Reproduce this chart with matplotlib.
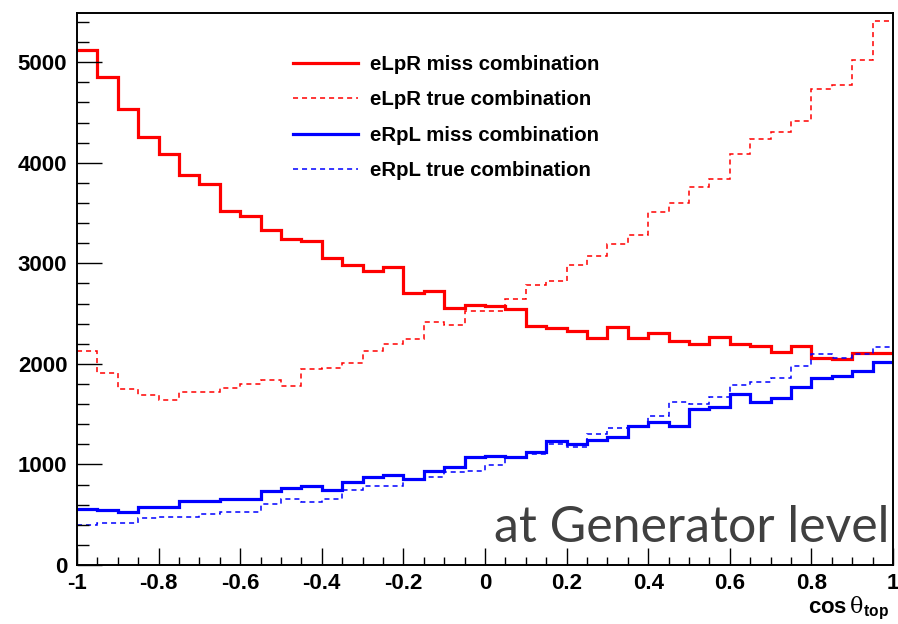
import numpy as np
import matplotlib
matplotlib.use("Agg")
import matplotlib.pyplot as plt
from matplotlib.ticker import MultipleLocator

# ---- data: 40 bins in cos(theta_top) from -1 to 1 ----
x_min, x_max, n_bins = -1.0, 1.0, 40

elpr_miss = [5120, 4850, 4540, 4258, 4085, 3883, 3794, 3519, 3476, 3327,
             3240, 3218, 3052, 2980, 2926, 2966, 2707, 2724, 2558, 2584,
             2571, 2545, 2379, 2359, 2326, 2256, 2369, 2253, 2310, 2230,
             2197, 2266, 2197, 2177, 2117, 2177, 2061, 2048, 2104, 2104]

elpr_true = [2127, 1909, 1746, 1690, 1643, 1717, 1717, 1763, 1796, 1836,
             1776, 1951, 1956, 2011, 2127, 2197, 2243, 2416, 2389, 2522,
             2525, 2644, 2780, 2826, 2982, 3072, 3190, 3280, 3509, 3598,
             3761, 3843, 4092, 4241, 4311, 4417, 4732, 4778, 5027, 5408]

erpl_miss = [557, 543, 527, 577, 577, 633, 636, 661, 661, 736,
             762, 782, 749, 822, 872, 895, 852, 937, 977, 1071,
             1083, 1071, 1120, 1236, 1200, 1243, 1272, 1385, 1418, 1378,
             1554, 1568, 1697, 1624, 1664, 1767, 1859, 1879, 1932, 2022]

erpl_true = [395, 421, 421, 464, 480, 480, 512, 527, 527, 610,
             656, 626, 656, 745, 789, 789, 858, 872, 928, 938,
             994, 1067, 1103, 1200, 1170, 1300, 1367, 1385, 1481, 1617,
             1600, 1673, 1789, 1822, 1862, 1981, 2097, 2054, 2097, 2170]

labels = ["eLpR miss combination", "eLpR true combination",
          "eRpL miss combination", "eRpL true combination"]
x_ticks = [-1, -0.8, -0.6, -0.4, -0.2, 0, 0.2, 0.4, 0.6, 0.8, 1]
x_tick_labels = ["-1", "-0.8", "-0.6", "-0.4", "-0.2", "0", "0.2", "0.4", "0.6", "0.8", "1"]
y_ticks = [0, 1000, 2000, 3000, 4000, 5000]
y_max = 5490

# ---- figure ----
plt.rcParams['font.family'] = ['Liberation Sans', 'DejaVu Sans']
plt.rcParams['mathtext.fontset'] = 'custom'
plt.rcParams['mathtext.rm'] = 'Liberation Sans:bold'
plt.rcParams['mathtext.bf'] = 'Liberation Sans:bold'
plt.rcParams['mathtext.sf'] = 'DejaVu Serif'
plt.rcParams['mathtext.it'] = 'DejaVu Serif'

W, H = 898, 624
fig = plt.figure(figsize=(W / 100, H / 100), dpi=100)
fig.patch.set_facecolor('white')
ax = fig.add_axes([77 / W, (H - 565) / H, (893 - 77) / W, (565 - 13) / H])

edges = np.linspace(x_min, x_max, n_bins + 1)
solid_lw = 2.3
dash_lw = 1.1
dash = (0, (3.3, 2.6))
ax.stairs(elpr_miss, edges, baseline=None, color='#ff0000', lw=solid_lw, label=labels[0])
ax.stairs(elpr_true, edges, baseline=None, color='#ff0000', lw=dash_lw, linestyle=dash, label=labels[1])
ax.stairs(erpl_miss, edges, baseline=None, color='#0000ff', lw=solid_lw, label=labels[2])
ax.stairs(erpl_true, edges, baseline=None, color='#0000ff', lw=dash_lw, linestyle=dash, label=labels[3])

ax.set_xlim(x_min, x_max)
ax.set_ylim(0, y_max)

ax.set_xticks(x_ticks)
ax.set_xticklabels(x_tick_labels)
ax.xaxis.set_minor_locator(MultipleLocator(0.05))
ax.set_yticks(y_ticks)
ax.set_yticklabels([str(v) for v in y_ticks])
ax.yaxis.set_minor_locator(MultipleLocator(200))

ax.tick_params(axis='both', which='both', direction='in', top=False, right=False,
               width=1.0, colors='black', labelsize=16)
ax.tick_params(axis='x', which='major', length=12, pad=6)
ax.tick_params(axis='x', which='minor', length=6)
ax.tick_params(axis='y', which='major', length=18, pad=7)
ax.tick_params(axis='y', which='minor', length=8.6)
for lab in ax.get_xticklabels() + ax.get_yticklabels():
    lab.set_fontweight('bold')
for sp in ax.spines.values():
    sp.set_linewidth(1.4)
    sp.set_color('black')

leg = ax.legend(loc='upper left', bbox_to_anchor=(293 / W, (H - 55) / H),
                bbox_transform=fig.transFigure, frameon=False,
                prop={'family': 'Liberation Sans', 'weight': 'bold', 'size': 14.7},
                handlelength=3.2, handletextpad=0.55, labelspacing=0.8,
                borderpad=0, borderaxespad=0)

fig.text(889 / W, (H - 542) / H, "at Generator level", ha='right', va='baseline',
         fontsize=36, color='#404040', family=['Lato', 'DejaVu Sans'])

fig.text(889 / W, (H - 613) / H, r'cos$\,\mathsf{\theta}_{\mathbf{top}}$', ha='right',
         va='baseline', fontsize=16, fontweight='bold', color='black')

fig.savefig('out.png', dpi=100, facecolor='white')
